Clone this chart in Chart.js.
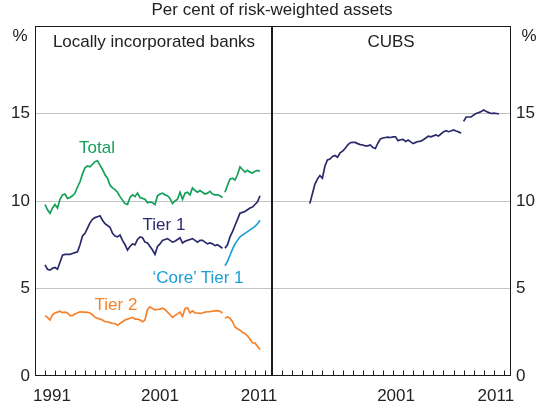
<!DOCTYPE html>
<html>
<head>
<meta charset="utf-8">
<script src="https://cdn.jsdelivr.net/npm/chart.js@4/dist/chart.umd.min.js"></script>
<style>
  body { margin: 0; background: #fff; }
  #wrap { position: relative; width: 544px; height: 404px; font-family: "Liberation Sans", Arial, sans-serif; color: #222; }
  canvas { position: absolute; top: 0; }
  .txt { position: absolute; transform: translate(-50%, -50%); white-space: nowrap; font-size: 17px; line-height: 1.15; }
</style>
</head>
<body>
<div id="wrap">
  <canvas id="leftChart" width="292" height="404" style="left:0"></canvas>
  <canvas id="rightChart" width="272" height="404" style="left:272px"></canvas>

  <div class="txt" style="left:272px; top:10px">Per cent of risk-weighted assets</div>
  <div class="txt" style="left:20px; top:36px">%</div>
  <div class="txt" style="left:529px; top:36px">%</div>
  <div class="txt" style="left:154px; top:42px">Locally incorporated banks</div>
  <div class="txt" style="left:391px; top:42px">CUBS</div>
  <div class="txt" style="left:97px; top:148px; color:#14a05a">Total</div>
  <div class="txt" style="left:164px; top:225px; color:#2b2a6b">Tier 1</div>
  <div class="txt" style="left:198px; top:278px; color:#1aa0d5">‘Core’ Tier 1</div>
  <div class="txt" style="left:116px; top:305px; color:#f5822a">Tier 2</div>
</div>

<script>
// quarterly data, first value of each series at its start date
const banksStart = 1990;
const coreStart = 2008;
const cubsStart = 1992.75;
const basel2Start = 2008; // break in the series

const total = [
  9.8, 9.5, 9.3, 9.6, 9.8, 9.6, 10.1, 10.35, 10.4, 10.15,
  10.2, 10.3, 10.45, 10.8, 11.1, 11.55, 11.9, 12.0, 11.95, 12.1,
  12.25, 12.3, 12.05, 11.8, 11.5, 11.3, 10.9, 10.75, 10.65, 10.5,
  10.25, 10.05, 9.85, 9.8, 10.2, 10.35, 10.25, 10.45, 10.2, 10.15,
  10.1, 9.9, 9.95, 9.9, 9.8, 10.3, 10.4, 10.45, 10.35, 10.3,
  10.15, 9.85, 10.0, 10.1, 10.5, 10.1, 10.45, 10.5, 10.35, 10.75,
  10.6, 10.5, 10.6, 10.5, 10.4, 10.45, 10.55, 10.4, 10.35, 10.35,
  10.3, 10.2,
  10.5, 10.9, 11.25, 11.3, 11.2, 11.5, 11.95, 11.8, 11.65, 11.75,
  11.65, 11.6, 11.7, 11.75, 11.7
];
const tier1 = [
  6.35, 6.1, 6.05, 6.15, 6.2, 6.1, 6.5, 6.9, 6.95, 6.95,
  6.95, 7.0, 7.05, 7.1, 7.5, 8.0, 8.15, 8.45, 8.75, 8.95,
  9.05, 9.1, 9.15, 8.9, 8.7, 8.6, 8.5, 8.15, 8.0, 7.95,
  8.05, 7.75, 7.5, 7.2, 7.4, 7.55, 7.5, 7.8, 7.95, 7.9,
  7.65, 7.6, 7.4, 7.2, 6.95, 7.4, 7.55, 7.75, 7.8, 7.85,
  7.75, 7.65, 7.7, 7.8, 7.9, 7.6, 7.7, 7.75, 7.8, 7.85,
  7.75, 7.65, 7.75, 7.75, 7.65, 7.55, 7.6, 7.55, 7.45, 7.5,
  7.4, 7.3,
  7.3, 7.5, 7.95, 8.25, 8.6, 8.95, 9.3, 9.35, 9.4, 9.5,
  9.6, 9.65, 9.8, 9.95, 10.3
];
const coreTier1 = [6.3, 6.55, 6.9, 7.25, 7.55, 7.75, 7.95, 8.05, 8.15, 8.25, 8.35, 8.45, 8.55, 8.7, 8.9];
const tier2 = [
  3.45, 3.35, 3.2, 3.5, 3.6, 3.65, 3.7, 3.62, 3.65, 3.6,
  3.45, 3.45, 3.55, 3.6, 3.67, 3.65, 3.65, 3.64, 3.6, 3.5,
  3.35, 3.3, 3.25, 3.2, 3.1, 3.1, 3.05, 3.0, 3.0, 2.9,
  3.0, 3.1, 3.2, 3.25, 3.3, 3.35, 3.25, 3.25, 3.2, 3.1,
  3.2, 3.8, 3.95, 3.85, 3.78, 3.8, 3.82, 3.87, 3.8, 3.65,
  3.5, 3.35, 3.45, 3.55, 3.65, 3.4, 3.85, 3.9, 3.6, 3.72,
  3.6, 3.6, 3.58, 3.6, 3.65, 3.67, 3.68, 3.7, 3.72, 3.73,
  3.7, 3.6,
  3.3, 3.38, 3.3, 3.1, 2.8, 2.7, 2.62, 2.5, 2.42, 2.3,
  2.1, 1.9, 1.88, 1.7, 1.5
];
const cubs = [
  9.85, 10.4, 10.95, 11.25, 11.45, 11.3, 12.0, 12.35, 12.4, 12.55,
  12.6, 12.5, 12.75, 12.85, 13.0, 13.2, 13.33, 13.35, 13.35, 13.28,
  13.22, 13.2, 13.15, 13.15, 13.2, 13.05, 13.0, 13.3, 13.55, 13.6,
  13.63, 13.65, 13.63, 13.66, 13.67, 13.45, 13.5, 13.52, 13.4, 13.48,
  13.38, 13.28, 13.35, 13.4, 13.42, 13.5, 13.6, 13.7, 13.67, 13.72,
  13.77, 13.71, 13.83, 13.95, 14.02, 13.96, 14.0, 14.06, 14.0, 13.95,
  13.87,
  14.55, 14.8, 14.8, 14.8, 14.92, 15.0, 15.05, 15.12, 15.2, 15.12,
  15.05, 15.0, 15.02, 15.0, 14.98
];

// x tick labels
const leftTickLabels = ['1991', '2001', '2011'];
const leftTickAt = [1990.7, 2001.5, 2011.4];
const rightTickLabels = ['2001', '2011'];
const rightTickAt = [2001.3, 2011.2];

const xMin = 1989, xMax = 2012.7;
const gridColor = '#c4c4c4';
const frameColor = '#1a1a1a';

Chart.defaults.font.family = "'Liberation Sans', Arial, sans-serif";
Chart.defaults.font.size = 17;
Chart.defaults.color = '#222';

function toPoints(values, start) {
  return values.map((v, i) => ({ x: start + i / 4, y: v }));
}

function serie(values, start, color) {
  return {
    data: toPoints(values, start),
    borderColor: color,
    borderWidth: 1.7,
    pointRadius: 0,
    tension: 0,
    segment: {
      borderColor: ctx => (ctx.p0.parsed.x < basel2Start && ctx.p1.parsed.x >= basel2Start) ? 'rgba(0,0,0,0)' : undefined
    }
  };
}

// frame round the panel and small year ticks pointing up from the axis
const framePlugin = {
  id: 'frame',
  afterDraw(chart) {
    const { ctx, chartArea: a, scales: { x } } = chart;
    const l = Math.round(a.left) + 0.5, r = Math.round(a.right) - 0.5;
    const t = Math.round(a.top) + 0.5, b = Math.round(a.bottom) - 0.5;
    ctx.save();
    ctx.strokeStyle = frameColor;
    ctx.lineWidth = 1;
    for (let yr = Math.ceil(x.min); yr <= Math.floor(x.max); yr++) {
      const px = Math.round(x.getPixelForValue(yr)) + 0.5;
      ctx.beginPath();
      ctx.moveTo(px, b);
      ctx.lineTo(px, b - 5);
      ctx.stroke();
    }
    ctx.strokeRect(l, t, r - l, b - t);
    ctx.restore();
  }
};

function makeChart(id, datasets, side, tickAt, tickLabels, padRight) {
  return new Chart(document.getElementById(id), {
    type: 'line',
    data: { datasets },
    plugins: [framePlugin],
    options: {
      responsive: false,
      animation: false,
      events: [],
      layout: { padding: { top: 26, left: 0, right: padRight, bottom: 0 } },
      plugins: { legend: { display: false }, tooltip: { enabled: false } },
      scales: {
        x: {
          type: 'linear',
          min: xMin,
          max: xMax,
          afterBuildTicks: s => { s.ticks = tickAt.map(v => ({ value: v })); },
          afterFit: s => { s.height = 28; s.paddingLeft = 0; s.paddingRight = 0; },
          ticks: {
            autoSkip: false,
            maxRotation: 0,
            padding: 2,
            callback: (v, i) => tickLabels[i]
          },
          grid: { display: false },
          border: { display: false }
        },
        y: {
          position: side,
          min: 0,
          max: 20,
          afterFit: s => { s.width = side === 'left' ? 35 : 33; s.paddingTop = 0; s.paddingBottom = 0; },
          ticks: {
            stepSize: 5,
            padding: 5,
            callback: v => (v === 20 ? '' : v)
          },
          grid: {
            drawTicks: false,
            color: c => (c.tick && c.tick.value > 0 && c.tick.value < 20) ? gridColor : 'rgba(0,0,0,0)'
          },
          border: { display: false }
        }
      }
    }
  });
}

makeChart('leftChart', [
  serie(total, banksStart, '#14a05a'),
  serie(tier1, banksStart, '#2b2a6b'),
  serie(coreTier1, coreStart, '#1aa0d5'),
  serie(tier2, banksStart, '#f5822a')
], 'left', leftTickAt, leftTickLabels, 20);

makeChart('rightChart', [
  serie(cubs, cubsStart, '#2b2a6b')
], 'right', rightTickAt, rightTickLabels, 0);
</script>
</body>
</html>
